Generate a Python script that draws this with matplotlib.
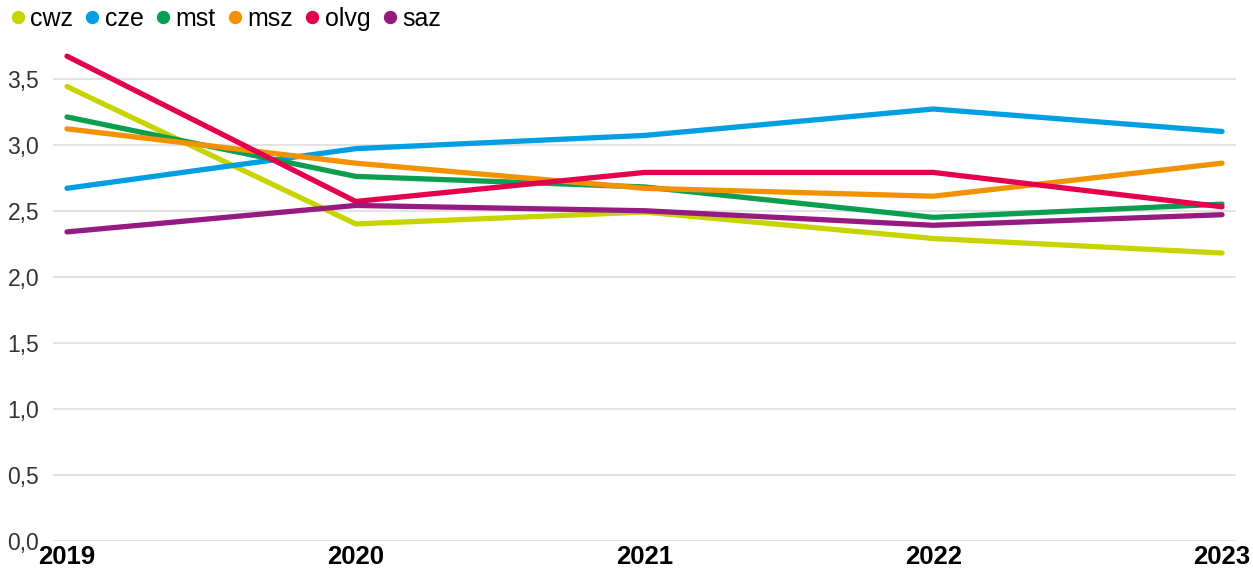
import matplotlib.pyplot as plt
from matplotlib.lines import Line2D
from matplotlib.ticker import FuncFormatter

plt.rcParams["font.family"] = ["Liberation Sans", "DejaVu Sans"]

# gegevens per ziekenhuis
jaren = [2019, 2020, 2021, 2022, 2023]
cwz = [3.44, 2.40, 2.49, 2.29, 2.18]
cze = [2.67, 2.97, 3.07, 3.27, 3.10]
mst = [3.21, 2.76, 2.68, 2.45, 2.55]
msz = [3.12, 2.86, 2.67, 2.61, 2.86]
olvg = [3.67, 2.57, 2.79, 2.79, 2.53]
saz = [2.34, 2.54, 2.50, 2.39, 2.47]

namen = ["cwz", "cze", "mst", "msz", "olvg", "saz"]
reeksen = [cwz, cze, mst, msz, olvg, saz]
kleuren = ["#c8d400", "#009fe3", "#0a9f50", "#f39200", "#e5004f", "#951b81"]

fig = plt.figure(figsize=(12.53, 5.75), dpi=100)
ax = fig.add_axes([53 / 1253, 1 - 541 / 575, (1236 - 53) / 1253, (541 - 39) / 575])

for naam, waarden, kleur in zip(namen, reeksen, kleuren):
    ax.plot(jaren, waarden, color=kleur, linewidth=3.8, solid_capstyle="round",
            solid_joinstyle="round", label=naam)

marge = 14 / 289
ax.set_xlim(jaren[0] - marge, jaren[-1] + marge)
ax.set_ylim(0, 3.8)
ax.set_xticks(jaren)
ax.set_yticks([0, 0.5, 1.0, 1.5, 2.0, 2.5, 3.0, 3.5])
ax.yaxis.set_major_formatter(FuncFormatter(lambda v, _: f"{v:.1f}".replace(".", ",")))

ax.grid(axis="y", color="#e3e3e3", linewidth=1.5)
ax.set_axisbelow(True)
for s in ax.spines.values():
    s.set_visible(False)
ax.tick_params(axis="both", length=0)
ax.tick_params(axis="y", labelsize=16.5, labelcolor="#333333", pad=10)
ax.tick_params(axis="x", labelsize=18.5, labelcolor="black", pad=3)
for lbl in ax.get_xticklabels():
    lbl.set_fontweight("bold")

handles = [Line2D([], [], linestyle="none", marker="o", markersize=8.6,
                  color=k, label=n) for n, k in zip(namen, kleuren)]
fig.legend(handles=handles, loc="upper left", bbox_to_anchor=(0.007, 0.993),
           ncol=6, frameon=False, fontsize=18, handlelength=0.5,
           handletextpad=0.25, columnspacing=0.52, borderpad=0.1,
           borderaxespad=0)

fig.savefig("out.png", dpi=100)
plt.close(fig)
